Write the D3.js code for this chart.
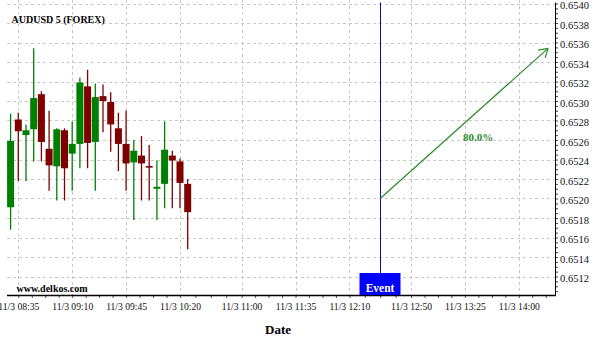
<!DOCTYPE html>
<html>
<head>
<meta charset="utf-8">
<script src="https://cdn.jsdelivr.net/npm/d3@7"></script>
<style>
  body { margin: 0; background: #fff; }
  svg text { font-family: "Liberation Serif", "Times New Roman", serif; }
</style>
</head>
<body>
<svg id="chart" width="600" height="340"></svg>
<script>
// 5 minute candles, AUDUSD, 11/3
const times  = ['08:30','08:35','08:40','08:45','08:50','08:55','09:00','09:05','09:10','09:15','09:20','09:25',
                '09:30','09:35','09:40','09:45','09:50','09:55','10:00','10:05','10:10','10:15','10:20','10:25'];
const opens  = [0.65191,0.65281,0.65265,0.65271,0.65307,0.65251,0.65233,0.65270,0.65246,0.65256,0.65315,0.65258,
                0.65305,0.65299,0.65272,0.65256,0.65237,0.65244,0.652333,0.65210,0.65215,0.65244,0.65238,0.65215];
const highs  = [0.65287,0.65288,0.65276,0.65354,0.65310,0.65290,0.65272,0.65272,0.65279,0.65324,0.65332,0.65318,
                0.65317,0.65309,0.65288,0.65290,0.65260,0.65264,0.65255,0.65239,0.65279,0.65249,0.65241,0.65220];
const lows   = [0.65168,0.65218,0.65218,0.65238,0.65238,0.65208,0.65198,0.65198,0.65208,0.65231,0.65231,0.65208,
                0.65268,0.65248,0.65228,0.65208,0.65178,0.65198,0.65198,0.65178,0.65190,0.65190,0.65190,0.65148];
const closes = [0.65259,0.65269,0.65270,0.65303,0.65258,0.65234,0.65271,0.65231,0.65256,0.65319,0.65257,0.65304,
                0.65300,0.65276,0.65256,0.65236,0.65249,0.65236,0.65233,0.65212,0.65250,0.65239,0.65216,0.65186];

const dateLabels = ['11/3 08:35','11/3 09:10','11/3 09:45','11/3 10:20','11/3 11:00',
                    '11/3 11:35','11/3 12:10','11/3 12:50','11/3 13:25','11/3 14:00'];
const priceLabels = [0.6512,0.6514,0.6516,0.6518,0.6520,0.6522,0.6524,0.6526,0.6528,0.6530,
                     0.6532,0.6534,0.6536,0.6538,0.6540];

const eventTime = '12:30';
const forecastStart = ['12:30', 0.65200];
const forecastEnd   = ['14:19', 0.65354];
const forecastText  = '80.0%';

const svg = d3.select('svg#chart');
const parse = d3.timeParse('%H:%M');
const plotLeft = 7, plotRight = 555, plotTop = 2.5, plotBottom = 295;

const x = d3.scaleTime()
  .domain([parse('08:35'), parse('14:00')])
  .range([18.3, 518.8]);
const y = d3.scaleLinear()
  .domain([0.6512, 0.6540])
  .range([276.5, 3.5]);

const green = '#008000', red = '#800000';
const labelTimes = dateLabels.map(d => parse(d.split(' ')[1]));

// grid
const grid = svg.append('g')
  .attr('stroke', '#c8c8c8')
  .attr('stroke-dasharray', '3,3')
  .attr('stroke-width', 1);
grid.selectAll('line.h')
  .data(priceLabels)
  .enter().append('line')
  .attr('x1', plotLeft).attr('x2', plotRight)
  .attr('y1', d => Math.round(y(d)) + 0.5)
  .attr('y2', d => Math.round(y(d)) + 0.5);
grid.selectAll('line.v')
  .data(labelTimes)
  .enter().append('line')
  .attr('x1', d => Math.round(x(d)) + 0.5)
  .attr('x2', d => Math.round(x(d)) + 0.5)
  .attr('y1', 0).attr('y2', plotBottom);

// candles
const candles = times.map((t, i) => ({
  t: parse(t), o: opens[i], h: highs[i], l: lows[i], c: closes[i]
}));

const g = svg.append('g');
g.selectAll('line.wick')
  .data(candles)
  .enter().append('line')
  .attr('x1', d => x(d.t)).attr('x2', d => x(d.t))
  .attr('y1', d => y(d.h)).attr('y2', d => y(d.l))
  .attr('stroke', d => d.c > d.o ? green : red)
  .attr('stroke-width', 1.3);
g.selectAll('rect.body')
  .data(candles)
  .enter().append('rect')
  .attr('x', d => x(d.t) - 3.5)
  .attr('width', 7)
  .attr('y', d => y(Math.max(d.o, d.c)))
  .attr('height', d => Math.max(1.6, Math.abs(y(d.o) - y(d.c))))
  .attr('fill', d => d.c > d.o ? green : red);

// right axis
const yTicks = d3.range(13021, 13081).map(i => i * 0.00005);
const isMajor = d => {
  const k = d * 10000;
  return Math.abs(k - Math.round(k)) < 1e-6 && Math.round(k) % 2 === 0;
};
const yAxis = svg.append('g')
  .attr('transform', `translate(${plotRight},0)`)
  .call(d3.axisRight(y)
    .tickValues(yTicks)
    .tickSize(3)
    .tickPadding(2)
    .tickFormat(d => isMajor(d) ? d.toFixed(4) : ''));
yAxis.select('.domain').remove();
yAxis.selectAll('.tick line').attr('stroke', '#444');
yAxis.selectAll('text')
  .attr('font-family', '"Liberation Serif", serif')
  .attr('font-size', 10.5)
  .attr('dy', '0.5em')
  .attr('fill', '#111');
svg.append('line')
  .attr('x1', plotRight + 0.5).attr('x2', plotRight + 0.5)
  .attr('y1', plotTop).attr('y2', plotBottom + 0.5)
  .attr('stroke', '#000');

// bottom axis
const xTicks = [];
labelTimes.forEach((d, i) => {
  const next = labelTimes[i + 1];
  const step = next ? (next - d) / 4 : (labelTimes[i] - labelTimes[i - 1]) / 4;
  for (let k = 0; k < 4; k++) {
    const v = new Date(+d + k * step);
    if (x(v) <= plotRight) xTicks.push(v);
  }
});
const xAxis = svg.append('g')
  .attr('transform', `translate(0,${plotBottom})`)
  .call(d3.axisBottom(x)
    .tickValues(xTicks)
    .tickSize(3)
    .tickPadding(5)
    .tickFormat(d => {
      const i = labelTimes.findIndex(t => +t === +d);
      return i >= 0 ? dateLabels[i] : '';
    }));
xAxis.select('.domain').remove();
xAxis.selectAll('.tick line').attr('stroke', '#555');
xAxis.selectAll('text')
  .attr('font-family', '"Liberation Serif", serif')
  .attr('font-size', 9.6)
  .attr('fill', '#111');
svg.append('line')
  .attr('x1', plotLeft).attr('x2', plotRight + 1)
  .attr('y1', plotBottom + 0.5).attr('y2', plotBottom + 0.5)
  .attr('stroke', '#000').attr('stroke-width', 1.5);

// event marker
const ex = Math.round(x(parse(eventTime))) + 0.5;
svg.append('line')
  .attr('x1', ex).attr('x2', ex)
  .attr('y1', plotTop).attr('y2', 273)
  .attr('stroke', '#1010a0').attr('stroke-width', 1);
svg.append('rect')
  .attr('x', ex - 21).attr('y', 273)
  .attr('width', 41).attr('height', plotBottom - 273)
  .attr('fill', '#0000ff');
svg.append('text')
  .attr('x', ex - 0.5).attr('y', 292)
  .attr('text-anchor', 'middle')
  .attr('font-weight', 'bold').attr('font-size', 11.5)
  .attr('fill', '#fff')
  .text('Event');

// forecast arrow
const ax1 = x(parse(forecastStart[0])), ay1 = y(forecastStart[1]),
  ax2 = x(parse(forecastEnd[0])), ay2 = y(forecastEnd[1]);
const ang = Math.atan2(ay2 - ay1, ax2 - ax1);
const arrowCol = '#2a8c2a';
svg.append('line')
  .attr('x1', ax1).attr('y1', ay1).attr('x2', ax2).attr('y2', ay2)
  .attr('stroke', arrowCol).attr('stroke-width', 1.2);
[-0.55, 0.55].forEach(a => {
  svg.append('line')
    .attr('x1', ax2).attr('y1', ay2)
    .attr('x2', ax2 - 10 * Math.cos(ang + a))
    .attr('y2', ay2 - 10 * Math.sin(ang + a))
    .attr('stroke', arrowCol).attr('stroke-width', 1.2);
});
svg.append('text')
  .attr('x', (ax1 + ax2) / 2 + 14).attr('y', (ay1 + ay2) / 2 + 18)
  .attr('text-anchor', 'middle')
  .attr('font-weight', 'bold').attr('font-size', 11)
  .attr('fill', arrowCol)
  .text(forecastText);

// texts
svg.append('text')
  .attr('x', 11.5).attr('y', 23)
  .attr('font-weight', 'bold').attr('font-size', 10)
  .text('AUDUSD 5 (FOREX)');
svg.append('text')
  .attr('x', 16.5).attr('y', 292)
  .attr('font-weight', 'bold').attr('font-size', 10)
  .text('www.delkos.com');
svg.append('text')
  .attr('x', 278).attr('y', 334)
  .attr('text-anchor', 'middle')
  .attr('font-weight', 'bold').attr('font-size', 13)
  .text('Date');
</script>
</body>
</html>
